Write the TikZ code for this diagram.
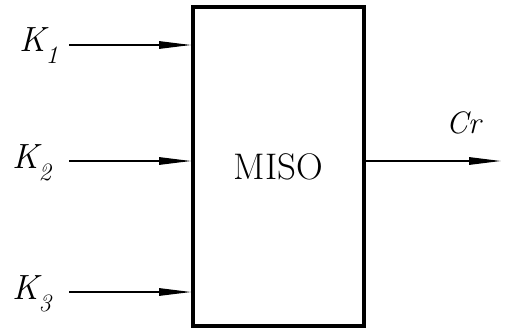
\documentclass[tikz,border=0pt]{standalone}
\usetikzlibrary{arrows.meta}
\newcommand{\Klab}[1]{\fontsize{35}{35}\selectfont\textit{K}\kern-3pt\raisebox{-12pt}{\fontsize{25}{25}\selectfont\textit{#1}}}
\begin{document}
\begin{tikzpicture}[x=1pt,y=1pt,
  sig/.style={line width=1.3pt,-{Triangle[length=32pt,width=7.5pt]}},
  lab/.style={anchor=base west,inner sep=0pt}]
\useasboundingbox (0,0) rectangle (505,330);
\node[draw,line width=3.8pt,minimum width=171pt,minimum height=319pt,inner sep=0pt,
      font=\fontsize{37}{37}\selectfont] (box) at (278.5,163.5) {MISO};
\coordinate (k1s) at (69,285);
\coordinate (k2s) at (69,169);
\coordinate (k3s) at (69,38);
\coordinate (outp) at (501,169);
\draw[sig] (k1s) -- (k1s -| box.west);
\draw[sig] (k2s) -- (k2s -| box.west);
\draw[sig] (k3s) -- (k3s -| box.west);
\draw[sig] (outp -| box.east) -- (outp);
\node[lab] (k1) at (19,278) {\Klab{1}};
\node[lab] (k2) at (12,162) {\Klab{2}};
\node[lab] (k3) at (12,31) {\Klab{3}};
\node[lab,font=\fontsize{31}{31}\selectfont] (cr) at (446,197) {\textit{Cr}};
\end{tikzpicture}
\end{document}
